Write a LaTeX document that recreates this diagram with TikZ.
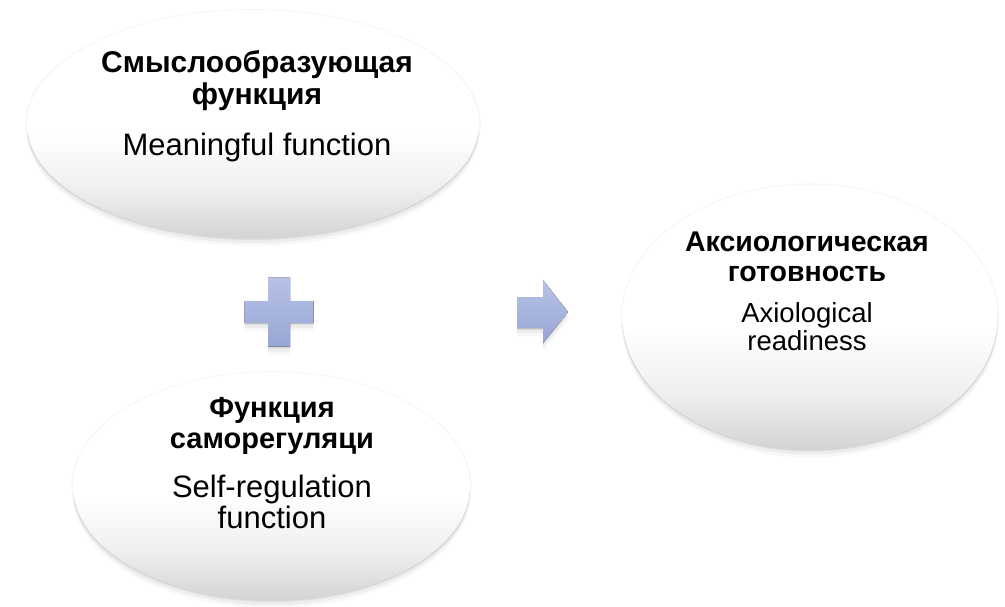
\documentclass[tikz,border=0pt]{standalone}
\usepackage{fontspec}
\setmainfont{Liberation Sans}
\usepackage{xcolor}
\usepackage{tikz}
\usetikzlibrary{shapes.geometric}
\usetikzlibrary{shadows}

\definecolor{blocktop}{RGB}{182,194,230}
\definecolor{blockbot}{RGB}{152,166,212}

\pgfdeclareverticalshading{bubbleshade}{100bp}{color(0bp)=(gray!34); color(25bp)=(gray!34);
  color(36bp)=(gray!12); color(48bp)=(white); color(100bp)=(white)}

\tikzset{
  softshadow/.style = {drop shadow = {shadow xshift = 0pt, shadow yshift = 0pt, shadow scale = 1.008, opacity = .07},
                       drop shadow = {shadow xshift = 0pt, shadow yshift = -2pt, opacity = .14},
                       drop shadow = {shadow xshift = 0pt, shadow yshift = -5pt, opacity = .09},
                       drop shadow = {shadow xshift = 0pt, shadow yshift = -8pt, opacity = .05}},
  bubble/.style = {ellipse, inner sep = 0pt, shading = bubbleshade, softshadow},
  block/.style = {top color = blocktop, bottom color = blockbot, draw = none, softshadow},
  titletext/.style = {align = center, font = \fontsize{30pt}{32pt}\selectfont\bfseries},
  desctext/.style = {align = center, font = \fontsize{31pt}{31pt}\selectfont}
}

\begin{document}
\begin{tikzpicture}[x = 1pt, y = -1pt]
\def\pcx{279}
\def\pcy{312}
\def\parm{34.5}
\def\pthk{11}
\fill [white] (0, 0) rectangle (1005, 607);
\useasboundingbox (0, 0) rectangle (1005, 607);

\node [bubble, minimum width = 452pt, minimum height = 228pt] (meaning) at (253, 124) {};
\node [bubble, minimum width = 397pt, minimum height = 228pt] (selfreg) at (271.5, 486) {};
\node [bubble, minimum width = 375pt, minimum height = 265pt] (readiness) at (810, 317) {};

\fill [block] (\pcx-\pthk, \pcy-\parm) -- (\pcx+\pthk, \pcy-\parm) -- (\pcx+\pthk, \pcy-\pthk)
  -- (\pcx+\parm, \pcy-\pthk) -- (\pcx+\parm, \pcy+\pthk) -- (\pcx+\pthk, \pcy+\pthk)
  -- (\pcx+\pthk, \pcy+\parm) -- (\pcx-\pthk, \pcy+\parm) -- (\pcx-\pthk, \pcy+\pthk)
  -- (\pcx-\parm, \pcy+\pthk) -- (\pcx-\parm, \pcy-\pthk) -- (\pcx-\pthk, \pcy-\pthk) -- cycle;

\fill [block] (517, 297) -- (543, 297) -- (543, 280) -- (568, 312)
  -- (543, 343) -- (543, 328) -- (517, 328) -- cycle;

\node [titletext] (meaningT) at (257, 81) {Смыслообразующая\\функция};
\node [desctext] (meaningD) at (257, 147) {Meaningful function};

\node [titletext, font = \fontsize{29pt}{31pt}\selectfont\bfseries] (selfregT) at (272, 426) {Функция\\саморегуляци};
\node [desctext] (selfregD) at (272, 502) {Self-regulation\\function};

\node [titletext, font = \fontsize{28.5pt}{30pt}\selectfont\bfseries] (readinessT) at (807, 257) {Аксиологическая\\готовность};
\node [desctext, font = \fontsize{27.5pt}{28pt}\selectfont] (readinessD) at (807, 327) {Axiological\\readiness};
\end{tikzpicture}
\end{document}
